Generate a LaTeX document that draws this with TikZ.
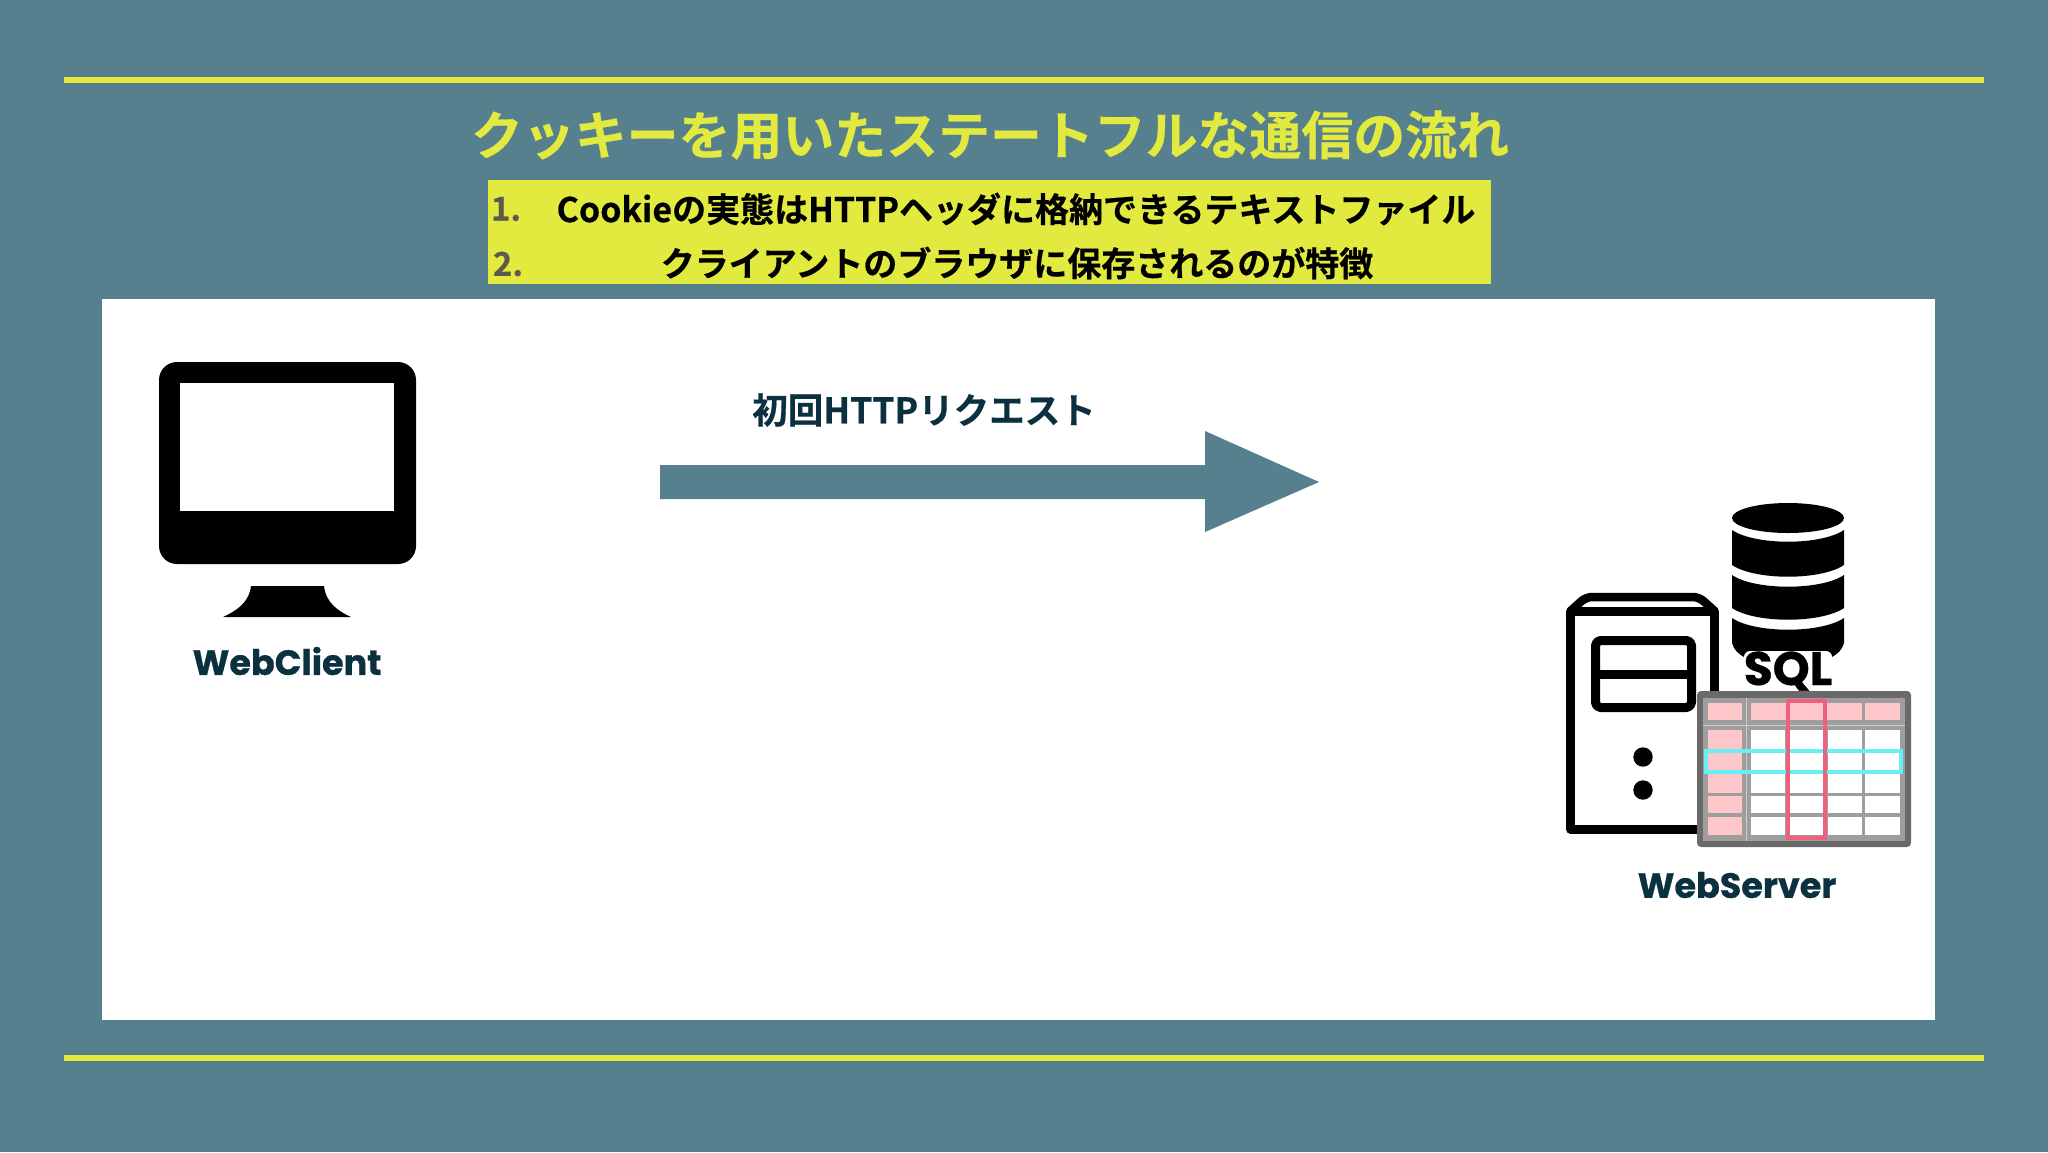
\documentclass[tikz,border=0pt]{standalone}
\usepackage{fontspec}
\setmainfont{Noto Sans CJK JP Bold}[FakeBold=0.5]
\newfontfamily\popp{Poppins Bold}[FakeBold=0.7]
\definecolor{bgteal}{HTML}{57808F}
\definecolor{lime}{HTML}{E3EA3F}
\definecolor{ink}{HTML}{0B3040}
\definecolor{numgray}{HTML}{5C5A4E}
\definecolor{pinkcell}{HTML}{FDC6C9}
\definecolor{gridgray}{HTML}{9E9E9E}
\definecolor{gridlight}{HTML}{CDCDCD}
\definecolor{framegray}{HTML}{6A6A6A}
\definecolor{cyanbar}{HTML}{66F0F5}
\definecolor{redbar}{HTML}{F0607C}
\tikzset{
  txt/.style={inner sep=0pt,outer sep=0pt,anchor=center},
  rulebar/.style={draw=lime,line width=6.5pt},
  iconline/.style={draw=black,line width=9pt,line join=round},
  wcell/.style={fill=white},
  pcell/.style={fill=pinkcell}
}
\newcommand{\fs}[1]{\fontsize{#1}{#1}\selectfont}
\begin{document}
\begin{tikzpicture}[x=1pt,y=-1pt]
\useasboundingbox (0,0) rectangle (2048,1152);
\fill[bgteal] (0,0) rectangle (2048,1152);
\draw[rulebar] (64,80) -- (1984,80);
\draw[rulebar] (64,1058) -- (1984,1058);
\fill[white] (102,299) rectangle (1935,1020);
\fill[lime] (488,180) rectangle (1491,284);
% text
\node[txt,text=lime] (title) at (990,135) {\fs{51.9}クッキーを用いたステートフルな通信の流れ};
\node[txt,text=black] (l1) at (1016,209) {\fs{34}Cookieの実態はHTTPヘッダに格納できるテキストファイル};
\node[txt,text=black] (l2) at (1017,263) {\fs{34}クライアントのブラウザに保存されるのが特徴};
\node[txt,text=numgray] (n1) at (506,209) {\fs{33}1.};
\node[txt,text=numgray] (n2) at (508,264) {\fs{33}2.};
\node[txt,text=ink] (reqlabel) at (924,410) {\fs{35.5}初回HTTPリクエスト};
% arrow
\fill[bgteal] (660,465) -- (1205,465) -- (1205,431) -- (1319,482) -- (1205,532) -- (1205,499) -- (660,499) -- cycle;
% monitor
\fill[black,rounded corners=18pt] (159,362) rectangle (416,564);
\fill[white] (180,383) rectangle (394,511);
\fill[black] (251,586) -- (324,586) .. controls (326,603) and (338,611) .. (351,617) -- (223,617) .. controls (236,611) and (249,603) .. (251,586) -- cycle;
\node[txt,text=ink] (client) at (287,661) {\popp\fs{35}WebClient};
% database
\fill[black] (1788,518) ellipse [x radius=56, y radius=15];
\foreach \t/\b in {530/565,575/608}{
  \fill[black] (1732,\t) .. controls (1755,\t+15.6) and (1821,\t+15.6) .. (1844,\t) -- (1844,\b) .. controls (1821,\b+15.6) and (1755,\b+15.6) .. (1732,\b) -- cycle;
}
\fill[black] (1732,618) .. controls (1755,633.6) and (1821,633.6) .. (1844,618) -- (1844,643) .. controls (1842,650) and (1838,654) .. (1830,658) -- (1746,658) .. controls (1738,654) and (1734,650) .. (1732,643) -- cycle;
\fill[white,rounded corners=6pt] (1744,651) rectangle (1832,690);
\node[txt,text=black,anchor=base] (sql) at (1788,685) {\popp\fs{47}SQL};
% tower
\draw[iconline] (1570.5,829) -- (1570.5,611) -- (1714.5,611) -- (1714.5,829) -- cycle;
\draw[iconline,line width=8.5pt,rounded corners=6pt] (1570.5,611) -- (1586,597) -- (1699,597) -- (1714.5,611);
\draw[iconline,rounded corners=5pt] (1595.5,640.5) rectangle (1691.5,707.5);
\draw[iconline] (1595.5,674) -- (1691.5,674);
\fill[black] (1643,757) circle (9.7);
\fill[black] (1643,790) circle (9.7);
% table
\fill[framegray,rounded corners=4pt] (1697,691) rectangle (1911,847);
\fill[gridgray] (1703,698) rectangle (1905,841);
\fill[pcell] (1708,703) rectangle (1742,720);
\fill[pcell] (1751,703) rectangle (1862,720);
\fill[pcell] (1865,703) rectangle (1900,720);
\foreach \a/\b in {730/750,752/771,774/793,796/813,817/835}{
  \fill[pcell] (1708,\a) rectangle (1742,\b);
  \fill[wcell] (1751,\a) rectangle (1785,\b);
  \fill[wcell] (1789,\a) rectangle (1825,\b);
  \fill[wcell] (1828,\a) rectangle (1862,\b);
  \fill[wcell] (1865,\a) rectangle (1900,\b);
}
\draw[gridlight,line width=1.5pt] (1746.5,698) -- (1746.5,841);
\draw[gridlight,line width=1.5pt] (1703,725.5) -- (1905,725.5);
\draw[cyanbar,line width=4pt] (1706,751) rectangle (1901,772);
\draw[redbar,line width=4pt] (1788,701) rectangle (1825,838);
\node[txt,text=ink] (server) at (1737,885) {\popp\fs{35}WebServer};
\end{tikzpicture}
\end{document}
